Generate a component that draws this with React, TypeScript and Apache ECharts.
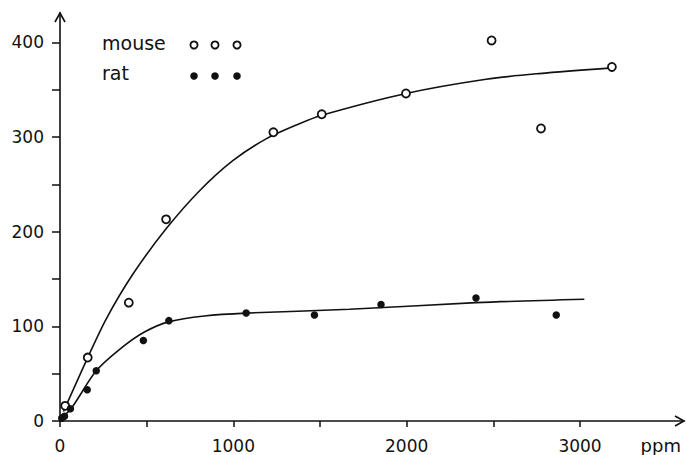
import React, { useEffect, useRef } from "react";
import * as echarts from "echarts";

const mouseX = [30, 160, 397, 612, 1231, 1510, 1996, 2490, 2775, 3184];
const mouseY = [16, 67, 125, 213, 305, 324, 346, 402, 309, 374];
const ratX = [10, 26, 60, 157, 209, 481, 628, 1074, 1468, 1852, 2400, 2863];
const ratY = [3, 5, 13, 33, 53, 85, 106, 114, 112, 123, 130, 112];

const mouseCurveX = [20, 160, 267, 420, 612, 804, 997, 1189, 1381, 1510, 1996, 2458, 2765, 3184];
const mouseCurveY = [10, 67, 108, 155, 203, 243, 275, 298, 314, 323, 346, 361, 367, 373];
const ratCurveX = [3, 64, 209, 353, 487, 631, 833, 1074, 1670, 2400, 3025];
const ratCurveY = [3, 13, 53, 77, 94, 105, 111, 114, 118, 125, 128.6];

const xTicks = [0, 500, 1000, 1500, 2000, 2500, 3000];
const xLabels = [0, 1000, 2000, 3000];
const yTicks = [0, 50, 100, 150, 200, 250, 300, 350, 400];
const yLabels = [0, 100, 200, 300, 400];

const legendNames = ["mouse", "rat"];

const zip = (xs: number[], ys: number[]) => xs.map((x, i) => [x, ys[i]]);

const FONT = "DejaVu Sans";
const INK = "#111";

export default function App() {
  const ref = useRef<HTMLDivElement>(null);
  useEffect(() => {
    if (!ref.current) return;
    const chart = echarts.init(ref.current, null, { renderer: "svg" });
    const W = 686, H = 455;
    const gl = 60, gt = 13, gr = 2, gb = 34;
    const xAxisY = H - gb;
    const xEnd = W - gr;
    const legendMarkX = [194, 215, 237];
    const graphic: any[] = [
      { type: "polyline", shape: { points: [[gl - 5, gt + 9], [gl, gt], [gl + 5, gt + 9]] }, style: { stroke: INK, lineWidth: 1.6, fill: "none" }, silent: true },
      { type: "polyline", shape: { points: [[xEnd - 9, xAxisY - 5], [xEnd, xAxisY], [xEnd - 9, xAxisY + 5]] }, style: { stroke: INK, lineWidth: 1.6, fill: "none" }, silent: true },
      { type: "text", right: 5, top: 436, style: { text: "ppm", font: `18px "${FONT}"`, fill: INK } },
      { type: "text", left: 102, top: 33, style: { text: legendNames[0], font: `19px "${FONT}"`, fill: INK } },
      { type: "text", left: 102, top: 63, style: { text: legendNames[1], font: `19px "${FONT}"`, fill: INK } },
    ];
    legendMarkX.forEach((cx) => {
      graphic.push({ type: "circle", shape: { cx, cy: 45, r: 3.6 }, style: { fill: "#fff", stroke: INK, lineWidth: 1.8 } });
      graphic.push({ type: "circle", shape: { cx, cy: 76, r: 3.8 }, style: { fill: INK } });
    });

    chart.setOption({
      animation: false,
      backgroundColor: "#fff",
      grid: { left: gl, top: gt, right: gr, bottom: gb, containLabel: false },
      xAxis: {
        type: "value",
        min: 0,
        max: 3600,
        splitLine: { show: false },
        axisLine: { show: true, onZero: false, lineStyle: { color: INK, width: 1.6 } },
        axisTick: { show: true, customValues: xTicks, length: 6, lineStyle: { color: INK, width: 1.5 } },
        axisLabel: { customValues: xLabels, formatter: (v: number) => String(v), margin: 16, color: INK, fontSize: 17, fontFamily: FONT },
      },
      yAxis: {
        type: "value",
        min: 0,
        max: 431,
        splitLine: { show: false },
        axisLine: { show: true, onZero: false, lineStyle: { color: INK, width: 1.6 } },
        axisTick: { show: true, customValues: yTicks, length: 8, lineStyle: { color: INK, width: 1.5 } },
        axisLabel: { customValues: yLabels, formatter: (v: number) => String(v), margin: 16, color: INK, fontSize: 17, fontFamily: FONT },
      },
      graphic,
      series: [
        {
          name: "mouse fit",
          type: "line",
          data: zip(mouseCurveX, mouseCurveY),
          smooth: 0.3,
          showSymbol: false,
          lineStyle: { color: INK, width: 1.6 },
          z: 2,
        },
        {
          name: "rat fit",
          type: "line",
          data: zip(ratCurveX, ratCurveY),
          smooth: 0.3,
          showSymbol: false,
          lineStyle: { color: INK, width: 1.6 },
          z: 2,
        },
        {
          name: "mouse",
          type: "scatter",
          data: zip(mouseX, mouseY),
          symbol: "circle",
          symbolSize: 8,
          itemStyle: { color: "#fff", borderColor: INK, borderWidth: 1.8, opacity: 1 },
          z: 3,
        },
        {
          name: "rat",
          type: "scatter",
          data: zip(ratX, ratY),
          symbol: "circle",
          symbolSize: 7.5,
          itemStyle: { color: INK, opacity: 1 },
          z: 3,
        },
      ],
    });
    return () => chart.dispose();
  }, []);
  return <div ref={ref} style={{ width: 686, height: 455, position: "absolute", left: 0, top: 0 }} />;
}
